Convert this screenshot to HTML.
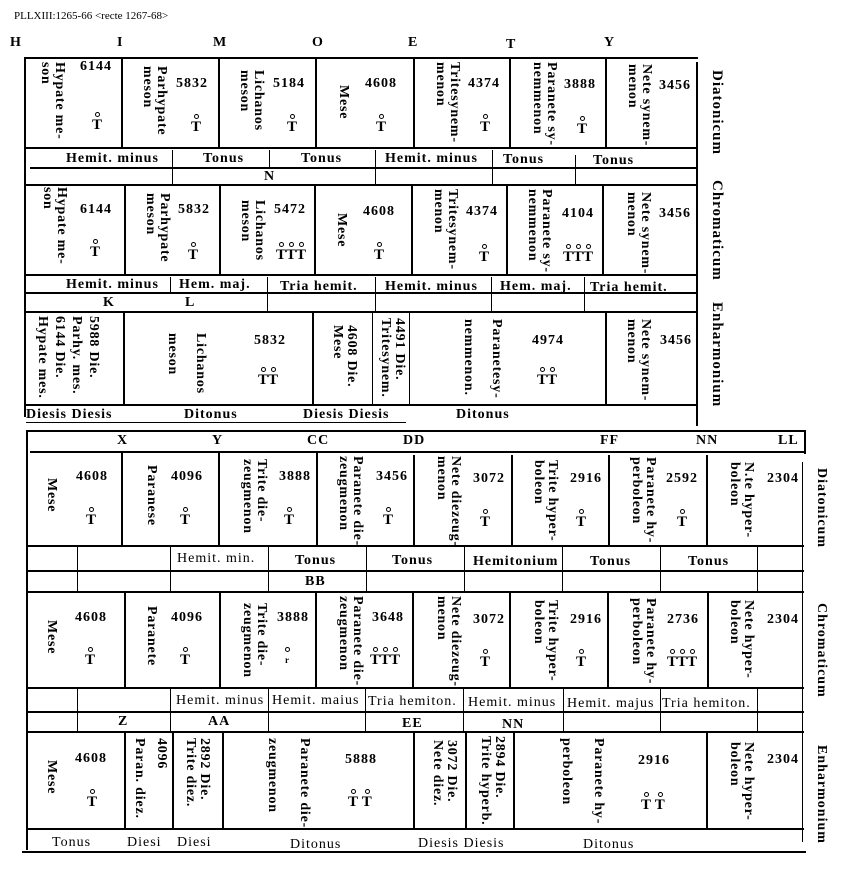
<!DOCTYPE html>
<html><head><meta charset="utf-8">
<style>
body{margin:0;width:843px;height:882px;background:#fff;position:relative;overflow:hidden;font-family:"Liberation Serif",serif;color:#000}
.a{position:absolute;white-space:nowrap}
.t{position:absolute;white-space:nowrap;font-weight:bold;font-size:14px;line-height:14px;letter-spacing:1px}
.v{position:absolute;white-space:pre;font-weight:bold;font-size:14px;line-height:14px;letter-spacing:0.8px;writing-mode:vertical-rl}
.hl{position:absolute;height:2px;background:#000}
.vl{position:absolute;width:2px;background:#000}
.s{position:absolute;font-weight:bold;font-size:15px;line-height:15px;white-space:nowrap}
.r{position:relative;display:inline-block}
.r:before{content:"";position:absolute;left:50%;top:-6px;width:3px;height:3px;margin-left:-2px;border:1px solid #000;border-radius:50%}
.lab{position:absolute;white-space:nowrap;font-weight:bold;font-size:15px;letter-spacing:1px;writing-mode:vertical-rl}
</style></head><body>
<div class="a" style="left:14px;top:10px;font-size:11px">PLLXIII:1265-66 &lt;recte 1267-68&gt;</div>
<div class="t" style="left:10px;top:36px">H</div>
<div class="t" style="left:117px;top:36px">I</div>
<div class="t" style="left:213px;top:36px">M</div>
<div class="t" style="left:312px;top:36px">O</div>
<div class="t" style="left:408px;top:36px">E</div>
<div class="t" style="left:506px;top:38px">T</div>
<div class="t" style="left:604px;top:36px">Y</div>

<div class="hl" style="left:24px;top:57px;width:674px"></div>
<div class="vl" style="left:24px;top:57px;height:360px"></div>
<div class="vl" style="left:696px;top:62px;height:364px"></div>
<div class="hl" style="left:24px;top:147px;width:672px"></div>
<div class="hl" style="left:30px;top:167px;width:666px"></div>
<div class="hl" style="left:24px;top:184px;width:672px"></div>
<div class="hl" style="left:24px;top:274px;width:672px"></div>
<div class="hl" style="left:24px;top:292px;width:672px"></div>
<div class="hl" style="left:24px;top:311px;width:672px"></div>
<div class="hl" style="left:24px;top:404px;width:672px"></div>
<div class="hl" style="left:26px;top:422px;width:380px;height:1px"></div>
<div class="vl" style="left:121px;top:59px;height:89px"></div>
<div class="vl" style="left:218px;top:59px;height:89px"></div>
<div class="vl" style="left:315px;top:59px;height:89px"></div>
<div class="vl" style="left:413px;top:59px;height:89px"></div>
<div class="vl" style="left:509px;top:59px;height:89px"></div>
<div class="vl" style="left:605px;top:59px;height:89px"></div>
<div class="vl" style="left:172px;top:150px;height:35px;width:1px"></div>
<div class="vl" style="left:269px;top:150px;height:17px;width:1px"></div>
<div class="vl" style="left:375px;top:150px;height:35px;width:1px"></div>
<div class="vl" style="left:492px;top:150px;height:35px;width:1px"></div>
<div class="vl" style="left:575px;top:155px;height:30px;width:1px"></div>
<div class="vl" style="left:124px;top:186px;height:89px"></div>
<div class="vl" style="left:219px;top:186px;height:89px"></div>
<div class="vl" style="left:314px;top:186px;height:89px"></div>
<div class="vl" style="left:411px;top:186px;height:89px"></div>
<div class="vl" style="left:506px;top:186px;height:89px"></div>
<div class="vl" style="left:602px;top:186px;height:89px"></div>
<div class="vl" style="left:170px;top:277px;height:16px;width:1px"></div>
<div class="vl" style="left:267px;top:277px;height:35px;width:1px"></div>
<div class="vl" style="left:375px;top:277px;height:35px;width:1px"></div>
<div class="vl" style="left:491px;top:277px;height:35px;width:1px"></div>
<div class="vl" style="left:584px;top:277px;height:35px;width:1px"></div>
<div class="vl" style="left:123px;top:313px;height:91px"></div>
<div class="vl" style="left:312px;top:313px;height:91px"></div>
<div class="vl" style="left:372px;top:313px;height:91px;width:1px"></div>
<div class="vl" style="left:409px;top:313px;height:91px;width:1px"></div>
<div class="vl" style="left:605px;top:313px;height:91px"></div>

<div class="v" style="left:38px;top:62px">Hypate me-
son</div>
<div class="t" style="left:80px;top:60px">6144</div>
<div class="s" style="left:92px;top:118px"><span class="r">T</span></div>
<div class="v" style="left:140px;top:66px">Parhypate
meson</div>
<div class="t" style="left:176px;top:77px">5832</div>
<div class="s" style="left:191px;top:120px"><span class="r">T</span></div>
<div class="v" style="left:237px;top:70px">Lichanos
meson</div>
<div class="t" style="left:273px;top:77px">5184</div>
<div class="s" style="left:287px;top:120px"><span class="r">T</span></div>
<div class="v" style="left:336px;top:85px">Mese</div>
<div class="t" style="left:365px;top:77px">4608</div>
<div class="s" style="left:376px;top:120px"><span class="r">T</span></div>
<div class="v" style="left:433px;top:62px">Tritesynem-
menon</div>
<div class="t" style="left:468px;top:77px">4374</div>
<div class="s" style="left:480px;top:120px"><span class="r">T</span></div>
<div class="v" style="left:530px;top:62px">Paranete sy-
nemmenon</div>
<div class="t" style="left:564px;top:78px">3888</div>
<div class="s" style="left:577px;top:122px"><span class="r">T</span></div>
<div class="v" style="left:625px;top:64px">Nete synem-
menon</div>
<div class="t" style="left:659px;top:79px">3456</div>

<div class="t" style="left:66px;top:152px">Hemit. minus</div>
<div class="t" style="left:203px;top:152px">Tonus</div>
<div class="t" style="left:301px;top:152px">Tonus</div>
<div class="t" style="left:385px;top:152px">Hemit. minus</div>
<div class="t" style="left:503px;top:153px">Tonus</div>
<div class="t" style="left:593px;top:154px">Tonus</div>
<div class="t" style="left:264px;top:170px">N</div>

<div class="v" style="left:40px;top:187px">Hypate me-
son</div>
<div class="t" style="left:80px;top:203px">6144</div>
<div class="s" style="left:90px;top:245px"><span class="r">T</span></div>
<div class="v" style="left:143px;top:193px">Parhypate
meson</div>
<div class="t" style="left:178px;top:203px">5832</div>
<div class="s" style="left:188px;top:248px"><span class="r">T</span></div>
<div class="v" style="left:238px;top:200px">Lichanos
meson</div>
<div class="t" style="left:274px;top:203px">5472</div>
<div class="s" style="left:276px;top:248px"><span class="r">T</span><span class="r">T</span><span class="r">T</span></div>
<div class="v" style="left:334px;top:213px">Mese</div>
<div class="t" style="left:363px;top:205px">4608</div>
<div class="s" style="left:374px;top:248px"><span class="r">T</span></div>
<div class="v" style="left:431px;top:189px">Tritesynem-
menon</div>
<div class="t" style="left:466px;top:205px">4374</div>
<div class="s" style="left:479px;top:250px"><span class="r">T</span></div>
<div class="v" style="left:525px;top:189px">Paranete sy-
nemmenon</div>
<div class="t" style="left:562px;top:207px">4104</div>
<div class="s" style="left:563px;top:250px"><span class="r">T</span><span class="r">T</span><span class="r">T</span></div>
<div class="v" style="left:624px;top:192px">Nete synem-
menon</div>
<div class="t" style="left:659px;top:207px">3456</div>

<div class="t" style="left:66px;top:278px">Hemit. minus</div>
<div class="t" style="left:179px;top:278px">Hem. maj.</div>
<div class="t" style="left:280px;top:280px">Tria hemit.</div>
<div class="t" style="left:385px;top:280px">Hemit. minus</div>
<div class="t" style="left:500px;top:280px">Hem. maj.</div>
<div class="t" style="left:590px;top:281px">Tria hemit.</div>
<div class="t" style="left:103px;top:296px">K</div>
<div class="t" style="left:185px;top:296px">L</div>

<div class="v" style="left:34px;top:316px;line-height:17px">5988 Die.
Parhy. mes.
6144 Die.
Hypate mes.</div>
<div class="v" style="left:158px;top:333px;line-height:28px">Lichanos
meson</div>
<div class="t" style="left:254px;top:334px">5832</div>
<div class="s" style="left:258px;top:373px"><span class="r">T</span><span class="r">T</span></div>
<div class="v" style="left:330px;top:325px">4608 Die.
Mese</div>
<div class="v" style="left:378px;top:318px">4491 Die.
Tritesynem.</div>
<div class="v" style="left:454px;top:319px;line-height:28px">Paranetesy-
nemmenon.</div>
<div class="t" style="left:532px;top:334px">4974</div>
<div class="s" style="left:537px;top:373px"><span class="r">T</span><span class="r">T</span></div>
<div class="v" style="left:624px;top:319px">Nete synem-
menon</div>
<div class="t" style="left:660px;top:334px">3456</div>
<div class="t" style="left:26px;top:408px">Diesis Diesis</div>
<div class="t" style="left:184px;top:408px">Ditonus</div>
<div class="t" style="left:303px;top:408px">Diesis Diesis</div>
<div class="t" style="left:456px;top:408px">Ditonus</div>

<div class="lab" style="left:708px;top:70px">Diatonicum</div>
<div class="lab" style="left:708px;top:180px">Chromaticum</div>
<div class="lab" style="left:708px;top:302px">Enharmonium</div>

<div class="hl" style="left:26px;top:430px;width:780px"></div>
<div class="vl" style="left:26px;top:430px;height:420px"></div>
<div class="vl" style="left:804px;top:430px;height:24px"></div>
<div class="vl" style="left:802px;top:462px;height:380px;width:1px"></div>
<div class="hl" style="left:30px;top:451px;width:775px"></div>
<div class="hl" style="left:26px;top:545px;width:778px"></div>
<div class="hl" style="left:26px;top:570px;width:778px"></div>
<div class="hl" style="left:26px;top:591px;width:778px"></div>
<div class="hl" style="left:26px;top:687px;width:778px"></div>
<div class="hl" style="left:26px;top:711px;width:778px"></div>
<div class="hl" style="left:26px;top:731px;width:778px"></div>
<div class="hl" style="left:26px;top:828px;width:778px"></div>
<div class="hl" style="left:22px;top:851px;width:784px"></div>
<div class="vl" style="left:121px;top:452px;height:93px"></div>
<div class="vl" style="left:218px;top:452px;height:93px"></div>
<div class="vl" style="left:316px;top:452px;height:93px"></div>
<div class="vl" style="left:413px;top:455px;height:90px"></div>
<div class="vl" style="left:511px;top:455px;height:90px"></div>
<div class="vl" style="left:608px;top:455px;height:90px"></div>
<div class="vl" style="left:706px;top:455px;height:90px"></div>
<div class="vl" style="left:77px;top:547px;height:44px;width:1px"></div>
<div class="vl" style="left:170px;top:547px;height:44px;width:1px"></div>
<div class="vl" style="left:268px;top:547px;height:44px;width:1px"></div>
<div class="vl" style="left:366px;top:547px;height:44px;width:1px"></div>
<div class="vl" style="left:464px;top:547px;height:44px;width:1px"></div>
<div class="vl" style="left:562px;top:547px;height:44px;width:1px"></div>
<div class="vl" style="left:660px;top:547px;height:44px;width:1px"></div>
<div class="vl" style="left:757px;top:547px;height:44px;width:1px"></div>
<div class="vl" style="left:124px;top:593px;height:95px"></div>
<div class="vl" style="left:219px;top:593px;height:95px"></div>
<div class="vl" style="left:315px;top:593px;height:95px"></div>
<div class="vl" style="left:412px;top:593px;height:95px"></div>
<div class="vl" style="left:509px;top:593px;height:95px"></div>
<div class="vl" style="left:607px;top:593px;height:95px"></div>
<div class="vl" style="left:707px;top:593px;height:95px"></div>
<div class="vl" style="left:77px;top:689px;height:42px;width:1px"></div>
<div class="vl" style="left:170px;top:689px;height:42px;width:1px"></div>
<div class="vl" style="left:268px;top:689px;height:42px;width:1px"></div>
<div class="vl" style="left:365px;top:689px;height:42px;width:1px"></div>
<div class="vl" style="left:463px;top:689px;height:42px;width:1px"></div>
<div class="vl" style="left:563px;top:689px;height:42px;width:1px"></div>
<div class="vl" style="left:660px;top:689px;height:42px;width:1px"></div>
<div class="vl" style="left:757px;top:689px;height:42px;width:1px"></div>
<div class="vl" style="left:124px;top:733px;height:95px"></div>
<div class="vl" style="left:172px;top:733px;height:95px"></div>
<div class="vl" style="left:222px;top:733px;height:95px"></div>
<div class="vl" style="left:413px;top:733px;height:95px"></div>
<div class="vl" style="left:465px;top:733px;height:95px"></div>
<div class="vl" style="left:513px;top:733px;height:95px"></div>
<div class="vl" style="left:706px;top:733px;height:95px"></div>

<div class="t" style="left:117px;top:434px">X</div>
<div class="t" style="left:212px;top:434px">Y</div>
<div class="t" style="left:307px;top:434px">CC</div>
<div class="t" style="left:403px;top:434px">DD</div>
<div class="t" style="left:600px;top:434px">FF</div>
<div class="t" style="left:696px;top:434px">NN</div>
<div class="t" style="left:778px;top:434px">LL</div>

<div class="v" style="left:44px;top:478px">Mese</div>
<div class="t" style="left:76px;top:470px">4608</div>
<div class="s" style="left:86px;top:513px"><span class="r">T</span></div>
<div class="v" style="left:144px;top:465px">Paranese</div>
<div class="t" style="left:171px;top:470px">4096</div>
<div class="s" style="left:180px;top:513px"><span class="r">T</span></div>
<div class="v" style="left:240px;top:459px">Trite die-
zeugmenon</div>
<div class="t" style="left:279px;top:470px">3888</div>
<div class="s" style="left:284px;top:513px"><span class="r">T</span></div>
<div class="v" style="left:336px;top:456px">Paranete die-
zeugmenon</div>
<div class="t" style="left:376px;top:470px">3456</div>
<div class="s" style="left:383px;top:513px"><span class="r">T</span></div>
<div class="v" style="left:434px;top:456px">Nete diezeug-
menon</div>
<div class="t" style="left:473px;top:472px">3072</div>
<div class="s" style="left:480px;top:515px"><span class="r">T</span></div>
<div class="v" style="left:531px;top:460px">Trite hyper-
boleon</div>
<div class="t" style="left:570px;top:472px">2916</div>
<div class="s" style="left:576px;top:515px"><span class="r">T</span></div>
<div class="v" style="left:629px;top:457px">Paranete hy-
perboleon</div>
<div class="t" style="left:666px;top:472px">2592</div>
<div class="s" style="left:677px;top:515px"><span class="r">T</span></div>
<div class="v" style="left:727px;top:462px">N.te hyper-
boleon</div>
<div class="t" style="left:767px;top:472px">2304</div>

<div class="t" style="left:177px;top:552px;font-weight:normal">Hemit. min.</div>
<div class="t" style="left:295px;top:554px">Tonus</div>
<div class="t" style="left:392px;top:554px">Tonus</div>
<div class="t" style="left:473px;top:555px">Hemitonium</div>
<div class="t" style="left:590px;top:555px">Tonus</div>
<div class="t" style="left:688px;top:555px">Tonus</div>
<div class="t" style="left:305px;top:575px">BB</div>

<div class="v" style="left:44px;top:620px">Mese</div>
<div class="t" style="left:75px;top:611px">4608</div>
<div class="s" style="left:85px;top:653px"><span class="r">T</span></div>
<div class="v" style="left:144px;top:606px">Paranete</div>
<div class="t" style="left:171px;top:611px">4096</div>
<div class="s" style="left:180px;top:653px"><span class="r">T</span></div>
<div class="v" style="left:240px;top:603px">Trite die-
zeugmenon</div>
<div class="t" style="left:277px;top:611px">3888</div>
<div class="s" style="left:285px;top:653px;font-size:9px"><span class="r">r</span></div>
<div class="v" style="left:336px;top:596px">Paranete die-
zeugmenon</div>
<div class="t" style="left:372px;top:611px">3648</div>
<div class="s" style="left:370px;top:653px"><span class="r">T</span><span class="r">T</span><span class="r">T</span></div>
<div class="v" style="left:434px;top:596px">Nete diezeug-
menon</div>
<div class="t" style="left:473px;top:613px">3072</div>
<div class="s" style="left:480px;top:655px"><span class="r">T</span></div>
<div class="v" style="left:531px;top:600px">Trite hyper-
boleon</div>
<div class="t" style="left:570px;top:613px">2916</div>
<div class="s" style="left:576px;top:655px"><span class="r">T</span></div>
<div class="v" style="left:629px;top:598px">Paranete hy-
perboleon</div>
<div class="t" style="left:667px;top:613px">2736</div>
<div class="s" style="left:667px;top:655px"><span class="r">T</span><span class="r">T</span><span class="r">T</span></div>
<div class="v" style="left:727px;top:600px">Nete hyper-
boleon</div>
<div class="t" style="left:767px;top:613px">2304</div>

<div class="t" style="left:176px;top:694px;font-weight:normal">Hemit. minus</div>
<div class="t" style="left:272px;top:694px;font-weight:normal">Hemit. maius</div>
<div class="t" style="left:368px;top:695px;font-weight:normal">Tria hemiton.</div>
<div class="t" style="left:468px;top:696px;font-weight:normal">Hemit. minus</div>
<div class="t" style="left:567px;top:697px;font-weight:normal">Hemit. majus</div>
<div class="t" style="left:662px;top:697px;font-weight:normal">Tria hemiton.</div>
<div class="t" style="left:118px;top:715px">Z</div>
<div class="t" style="left:208px;top:715px">AA</div>
<div class="t" style="left:402px;top:717px">EE</div>
<div class="t" style="left:502px;top:718px">NN</div>

<div class="v" style="left:44px;top:760px">Mese</div>
<div class="t" style="left:75px;top:752px">4608</div>
<div class="s" style="left:87px;top:795px"><span class="r">T</span></div>
<div class="v" style="left:128px;top:738px;line-height:22px">4096
Paran. diez.</div>
<div class="v" style="left:183px;top:738px">2892 Die.
Trite diez.</div>
<div class="v" style="left:256px;top:738px;line-height:32px">Paranete die-
zeugmenon</div>
<div class="t" style="left:345px;top:753px">5888</div>
<div class="s" style="left:348px;top:795px"><span class="r">T</span> <span class="r">T</span></div>
<div class="v" style="left:430px;top:740px">3072 Die.
Nete diez.</div>
<div class="v" style="left:478px;top:736px">2894 Die.
Trite hyperb.</div>
<div class="v" style="left:550px;top:738px;line-height:32px">Paranete hy-
perboleon</div>
<div class="t" style="left:638px;top:754px">2916</div>
<div class="s" style="left:641px;top:798px"><span class="r">T</span> <span class="r">T</span></div>
<div class="v" style="left:727px;top:742px">Nete hyper-
boleon</div>
<div class="t" style="left:767px;top:753px">2304</div>
<div class="t" style="left:52px;top:836px;font-weight:normal">Tonus</div>
<div class="t" style="left:127px;top:836px;font-weight:normal">Diesi</div>
<div class="t" style="left:177px;top:836px;font-weight:normal">Diesi</div>
<div class="t" style="left:290px;top:838px;font-weight:normal">Ditonus</div>
<div class="t" style="left:418px;top:837px;font-weight:normal">Diesis Diesis</div>
<div class="t" style="left:583px;top:838px;font-weight:normal">Ditonus</div>

<div class="lab" style="left:813px;top:468px;font-size:14px">Diatonicum</div>
<div class="lab" style="left:813px;top:603px;font-size:14px">Chromaticum</div>
<div class="lab" style="left:813px;top:745px;font-size:14px">Enharmonium</div>
</body></html>
